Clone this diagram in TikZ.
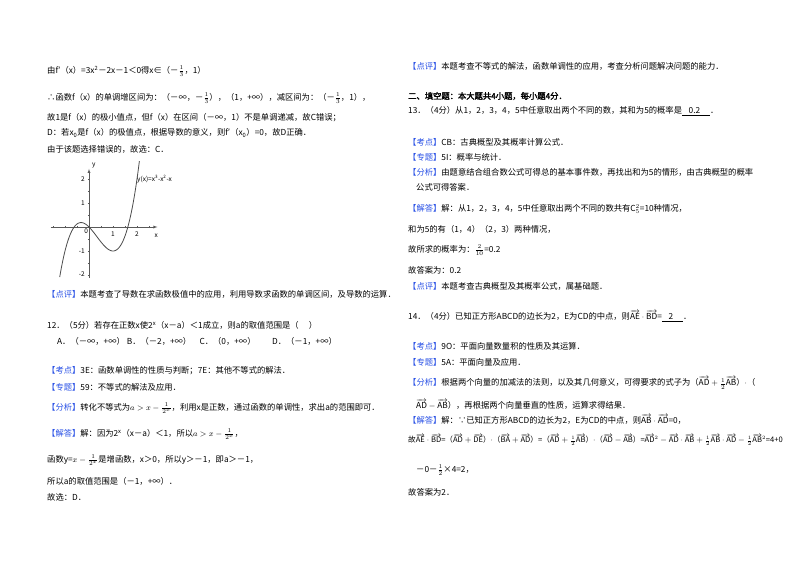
\documentclass[tikz,border=0pt]{standalone}
\usepackage{fontspec}
\usepackage{amsmath}
\setmainfont{Noto Sans CJK SC}
\newfontfamily\bcjk[FakeBold=2]{Noto Sans CJK SC}
\definecolor{kblue}{RGB}{40,80,230}
\newcommand{\tg}[1]{{\color{kblue}【#1】}}
\newcommand{\fr}[2]{$\tfrac{#1}{#2}$}
\newcommand{\vv}[1]{\overrightarrow{\mathrm{#1}}}
\begin{document}
\begin{tikzpicture}[x=1pt,y=-1pt,font=\fontsize{8.3}{10}\selectfont,
  tx/.style={anchor=west,inner sep=0pt}]
\useasboundingbox (0,0) rectangle (800,565);
\fill[white] (0,0) rectangle (800,565);
% left column
\node[tx] (l1) at (47,71) {由f′（x）=3x\textsuperscript{2}－2x－1＜0得x∈（－\fr13，1）};
\node[tx] (l2) at (47,98) {∴函数f（x）的单调增区间为：（－∞，－\fr13），（1，+∞），减区间为：（－\fr13，1），};
\node[tx] (l3) at (47,118) {故1是f（x）的极小值点，但f（x）在区间（－∞，1）不是单调递减，故C错误；};
\node[tx] (l4) at (47,133) {D：若x\textsubscript{0}是f（x）的极值点，根据导数的意义，则f′（x\textsubscript{0}）=0，故D正确．};
\node[tx] (l5) at (47,149) {由于该题选择错误的，故选：C．};
% graph
\begin{scope}[shift={(89,227)},x=24pt,y=24pt,font=\fontsize{6.5}{7}\selectfont\rmfamily]
\draw[gray!70!black,-latex] (-1.6,0)--(2.85,0);
\draw[gray!70!black,-latex] (0,-2.12)--(0,2.42);
\foreach \t in {-1.5,-1,-0.5,0.5,1,1.5,2,2.5}{\draw[gray!70!black] (\t,-0.05)--(\t,0.05);}
\foreach \t in {-2,-1.5,-1,-0.5,0.5,1,1.5,2}{\draw[gray!70!black] (-0.05,\t)--(0.05,\t);}
\begin{scope}
\clip (-1.3,-2.2) rectangle (2.2,2.75);
\draw[gray!60!black,thick,domain=-1.22:2.1,samples=80,smooth] plot (\x,{\x*\x*\x-\x*\x-\x});
\end{scope}
\node[inner sep=0] (g0) at (-0.12,-0.18) {0};
\node[inner sep=0] (g1) at (1,-0.3) {1};
\node[inner sep=0] (g2) at (2,-0.3) {2};
\node[inner sep=0] (gx) at (2.8,-0.35) {\itshape x};
\node[inner sep=0] (gy) at (0.2,2.55) {\itshape y};
\node[inner sep=0] (gb2) at (-0.25,2) {2};
\node[inner sep=0] (gb1) at (-0.25,1) {1};
\node[inner sep=0] (gm1) at (-0.3,-1) {-1};
\node[inner sep=0] (gm2) at (-0.3,-1.97) {-2};
\node[anchor=west,inner sep=0] (gl) at (2.0,2.0) {\itshape y(x)=x\textsuperscript{3}-x\textsuperscript{2}-x};
\end{scope}
\node[tx] (l6) at (47,294) {\tg{点评}本题考查了导数在求函数极值中的应用，利用导数求函数的单调区间，及导数的运算．};
\node[tx] (l7) at (47,325) {12．（5分）若存在正数x使2\textsuperscript{x}（x－a）＜1成立，则a的取值范围是（\quad\ ）};
\node[tx] (l8) at (57,341) {A．（－∞，+∞）\ B．（－2，+∞）\quad C．（0，+∞）\qquad D．（－1，+∞）};
\node[tx] (l9) at (47,371) {\tg{考点}3E：函数单调性的性质与判断；7E：其他不等式的解法．};
\node[tx] (l10) at (47,387) {\tg{专题}59：不等式的解法及应用．};
\node[tx] (l11) at (47,408) {\tg{分析}转化不等式为$a>x-\frac{1}{2^x}$，利用x是正数，通过函数的单调性，求出a的范围即可．};
\node[tx] (l12) at (47,434) {\tg{解答}解：因为2\textsuperscript{x}（x－a）＜1，所以$a>x-\frac{1}{2^x}$，};
\node[tx] (l13) at (47,460) {函数y=$x-\frac{1}{2^x}$是增函数，x＞0，所以y＞－1，即a＞－1，};
\node[tx] (l14) at (47,481) {所以a的取值范围是（－1，+∞）．};
\node[tx] (l15) at (47,497) {故选：D．};
% right column
\node[tx] (r1) at (408,66) {\tg{点评}本题考查不等式的解法，函数单调性的应用，考查分析问题解决问题的能力．};
\node[tx] (r2) at (408,96) {\bcjk 二、填空题：本大题共4小题，每小题4分．};
\node[tx] (r3) at (408,111) {13．（4分）从1，2，3，4，5中任意取出两个不同的数，其和为5的概率是\underline{\hspace{0.8em}0.2\hspace{1.2em}}．};
\node[tx] (r4) at (408,142) {\tg{考点}CB：古典概型及其概率计算公式．};
\node[tx] (r5) at (408,157) {\tg{专题}5I：概率与统计．};
\node[tx] (r6) at (408,172) {\tg{分析}由题意结合组合数公式可得总的基本事件数，再找出和为5的情形，由古典概型的概率};
\node[tx] (r7) at (416,187) {公式可得答案．};
\node[tx] (r8) at (408,209) {\tg{解答}解：从1，2，3，4，5中任意取出两个不同的数共有$\mathrm{C}_5^2$=10种情况，};
\node[tx] (r9) at (408,229) {和为5的有（1，4）（2，3）两种情况，};
\node[tx] (r10) at (408,250) {故所求的概率为：$\frac{2}{10}$=0.2};
\node[tx] (r11) at (408,270) {故答案为：0.2};
\node[tx] (r12) at (408,286) {\tg{点评}本题考查古典概型及其概率公式，属基础题．};
\node[tx] (r13) at (408,316) {14．（4分）已知正方形ABCD的边长为2，E为CD的中点，则$\vv{AE}\cdot\vv{BD}$=\underline{\hspace{0.8em}2\hspace{1.2em}}．};
\node[tx] (r14) at (408,346) {\tg{考点}9O：平面向量数量积的性质及其运算．};
\node[tx] (r15) at (408,362) {\tg{专题}5A：平面向量及应用．};
\node[tx] (r16) at (408,383) {\tg{分析}根据两个向量的加减法的法则，以及其几何意义，可得要求的式子为（$\vv{AD}+\frac12\vv{AB}$）$\cdot$（};
\node[tx] (r17) at (416,404) {$\vv{AD}-\vv{AB}$），再根据两个向量垂直的性质，运算求得结果．};
\node[tx] (r18) at (408,419) {\tg{解答}解：∵已知正方形ABCD的边长为2，E为CD的中点，则$\vv{AB}\cdot\vv{AD}$=0，};
\node[tx] (r19) at (408,440) {\fontsize{7.6}{9}\selectfont 故$\vv{AE}\cdot\vv{BD}$=（$\vv{AD}+\vv{DE}$）$\cdot$（$\vv{BA}+\vv{AD}$）=（$\vv{AD}+\frac12\vv{AB}$）$\cdot$（$\vv{AD}-\vv{AB}$）=$\vv{AD}^2-\vv{AD}\cdot\vv{AB}+\frac12\vv{AB}\cdot\vv{AD}-\frac12\vv{AB}^2$=4+0};
\node[tx] (r20) at (416,470) {－0－\fr12×4=2，};
\node[tx] (r21) at (408,492) {故答案为2．};
\end{tikzpicture}
\end{document}
